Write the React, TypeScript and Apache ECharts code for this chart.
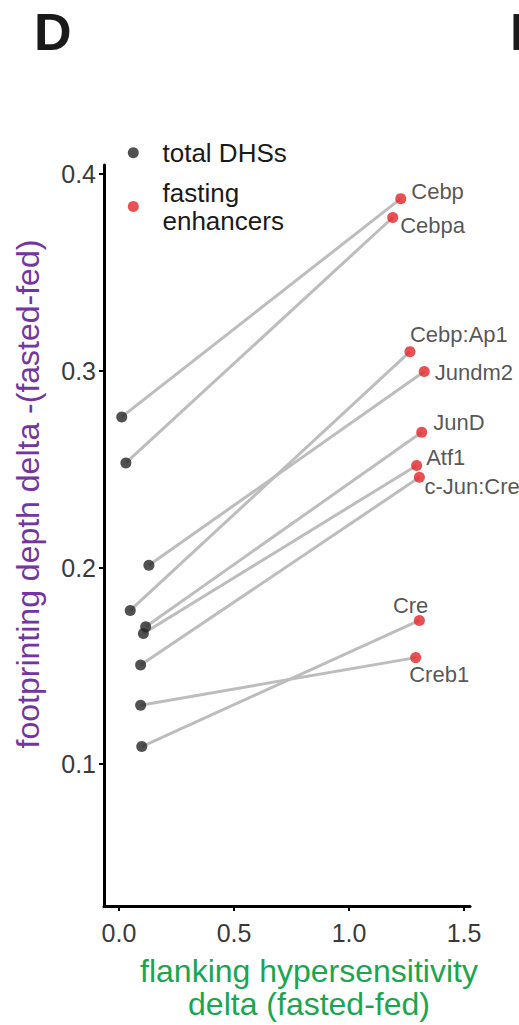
import React, { useEffect, useRef } from "react";
import * as echarts from "echarts";

// ---- data ----
const factors = ["Cebp", "Cebpa", "Cebp:Ap1", "Jundm2", "JunD", "Atf1", "c-Jun:Cre", "Cre", "Creb1"];
// total DHSs (paired with each factor)
const totalX = [0.012, 0.030, 0.049, 0.130, 0.116, 0.106, 0.094, 0.099, 0.094];
const totalY = [0.2766, 0.2532, 0.1782, 0.2012, 0.1699, 0.1665, 0.1504, 0.109, 0.130];
// fasting enhancers
const fastingX = [1.225, 1.19, 1.265, 1.327, 1.316, 1.294, 1.306, 1.306, 1.29];
const fastingY = [0.3876, 0.378, 0.3098, 0.2997, 0.2688, 0.2519, 0.2459, 0.1731, 0.1542];
const xTicks = [0, 0.5, 1.0, 1.5];
const yTicks = [0.1, 0.2, 0.3, 0.4];
const xRange = [-0.0652, 1.526];
const yRange = [0.0279, 0.4047];
const seriesNames = ["total DHSs", "fasting enhancers"];

// ---- layout (label offsets from the "right" label spot) ----
const labelOffset: Record<string, [number, number]> = {
  Cebp: [0, -7],
  Cebpa: [-3, 8],
  "Cebp:Ap1": [-10.5, -17],
  Jundm2: [0, 1],
  JunD: [1, -9.5],
  Atf1: [-1, -8],
  "c-Jun:Cre": [-5.5, 9.5],
  Cre: [-37, -15],
  Creb1: [-17, 16.5],
};

const FONT = '"Liberation Sans", Arial, Helvetica, sans-serif';
const SYMBOL = 11;

export default function App() {
  const ref = useRef<HTMLDivElement>(null);
  useEffect(() => {
    if (!ref.current) return;
    const chart = echarts.init(ref.current, undefined, { renderer: "svg" });
    const lineSeries = factors.map((n, i) => ({
      type: "line",
      data: [
        [totalX[i], totalY[i]],
        [fastingX[i], fastingY[i]],
      ],
      symbol: "none",
      silent: true,
      z: 1,
      lineStyle: { color: "#bdbdbd", width: 3 },
      emphasis: { disabled: true },
    }));
    chart.setOption({
      animation: false,
      backgroundColor: "#ffffff",
      textStyle: { fontFamily: FONT },
      grid: { left: 104, top: 165, width: 366, height: 742 },
      graphic: [
        {
          type: "text",
          x: 34,
          y: 32,
          style: { text: "D", font: `bold 52px ${FONT}`, fill: "#1a1a1a", verticalAlign: "middle", align: "left" },
        },
        {
          type: "text",
          x: 510,
          y: 32,
          style: { text: "E", font: `bold 52px ${FONT}`, fill: "#1a1a1a", verticalAlign: "middle", align: "left" },
        },
      ],
      legend: {
        data: seriesNames,
        orient: "vertical",
        left: 127.8,
        top: 138.7,
        padding: 0,
        itemWidth: 11,
        itemHeight: 11,
        itemGap: 11.8,
        icon: "circle",
        selectedMode: false,
        formatter: (name: string) => (name === "fasting enhancers" ? "fasting\nenhancers" : name),
        textStyle: { fontSize: 26, lineHeight: 28, color: "#1a1a1a", fontFamily: FONT, padding: [0, 0, 0, 18.7] },
      },
      xAxis: {
        type: "value",
        min: xRange[0],
        max: xRange[1],
        splitLine: { show: false },
        axisLine: { show: true, onZero: false, lineStyle: { color: "#000", width: 3 } },
        axisTick: { show: true, length: 5, customValues: xTicks, lineStyle: { color: "#000", width: 2 } },
        axisLabel: {
          customValues: xTicks,
          formatter: (v: number) => v.toFixed(1),
          fontSize: 25,
          color: "#3a3a3a",
          margin: 14,
          fontFamily: FONT,
        },
        name: "flanking hypersensitivity\ndelta (fasted-fed)",
        nameLocation: "middle",
        nameGap: 48,
        nameTextStyle: { fontSize: 32, lineHeight: 33, color: "#1aa64f", fontFamily: FONT, padding: [0, 0, 0, 44] },
      },
      yAxis: {
        type: "value",
        min: yRange[0],
        max: yRange[1],
        splitLine: { show: false },
        axisLine: { show: true, onZero: false, lineStyle: { color: "#000", width: 3 } },
        axisTick: { show: true, length: 5, customValues: yTicks, lineStyle: { color: "#000", width: 2 } },
        axisLabel: {
          customValues: yTicks,
          formatter: (v: number) => v.toFixed(1),
          fontSize: 25,
          color: "#3a3a3a",
          margin: 8,
          fontFamily: FONT,
        },
        name: "footprinting depth delta -(fasted-fed)",
        nameLocation: "middle",
        nameGap: 60,
        nameTextStyle: { fontSize: 32, color: "#7434a2", fontFamily: FONT, padding: [0, 0, 0, 83] },
      },
      series: [
        ...lineSeries,
        {
          type: "scatter",
          name: seriesNames[0],
          data: totalX.map((x, i) => [x, totalY[i]]),
          symbolSize: SYMBOL,
          z: 3,
          itemStyle: { color: "#262626" },
          emphasis: { disabled: true },
        },
        {
          type: "scatter",
          name: seriesNames[1],
          data: factors.map((n, i) => ({
            name: n,
            value: [fastingX[i], fastingY[i]],
            label: {
              position: [SYMBOL + 5 + labelOffset[n][0], SYMBOL / 2 + labelOffset[n][1]],
              align: "left",
              verticalAlign: "middle",
            },
          })),
          symbolSize: SYMBOL,
          z: 3,
          itemStyle: { color: "#e42428" },
          label: {
            show: true,
            formatter: "{b}",
            fontSize: 22,
            color: "#2a2a2a",
            fontFamily: FONT,
          },
          labelLayout: { hideOverlap: false },
          emphasis: { disabled: true },
        },
      ],
    });
    return () => chart.dispose();
  }, []);
  return (
    <div
      ref={ref}
      style={{ position: "absolute", left: 0, top: 0, width: 519, height: 1025, overflow: "hidden" }}
    />
  );
}
